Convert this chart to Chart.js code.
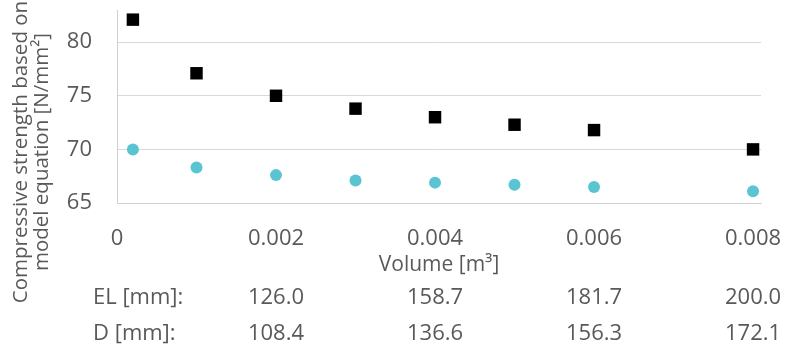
<!DOCTYPE html>
<html>
<head>
<meta charset="utf-8">
<script src="https://cdn.jsdelivr.net/npm/chart.js@4"></script>
<style>
  html, body { margin: 0; padding: 0; background: #fff; }
  #wrap { width: 785px; height: 355px; }
</style>
</head>
<body>
<div id="wrap"><canvas id="chart" width="785" height="355"></canvas></div>
<script>
// Volume [m3] of each specimen
const volume = [0.0002, 0.001, 0.002, 0.003, 0.004, 0.005, 0.006, 0.008];
// strength from model equation, two series
const seriesSquare = [82.1, 77.1, 75.0, 73.8, 73.0, 72.3, 71.8, 70.0];
const seriesCircle = [70.0, 68.3, 67.6, 67.1, 66.9, 66.7, 66.5, 66.1];

// extra rows under the x axis
const rowVolumes = [0.002, 0.004, 0.006, 0.008];
const elValues = ['126.0', '158.7', '181.7', '200.0'];
const dValues = ['108.4', '136.6', '156.3', '172.1'];
const rowLabels = ['EL [mm]:', 'D [mm]:'];

const xTicks = [0, 0.002, 0.004, 0.006, 0.008];
const yTicks = [65, 70, 75, 80];
const yTitle = ['Compressive strength based on', 'model equation [N/mm²]'];

const TEXT = '#595959';
const FONT = '"Open Sans", sans-serif';

function toPoints(ys) {
    return volume.map((v, i) => ({ x: v, y: ys[i] }));
}

// y title (two lines, rotated) and the EL / D rows under the x axis
const extraText = {
    id: 'extraText',
    afterDraw(chart) {
        const ctx = chart.ctx;
        const x = chart.scales.x;
        ctx.save();
        ctx.fillStyle = TEXT;

        ctx.font = '22px ' + FONT;
        ctx.textBaseline = 'middle';
        const rows = [elValues, dValues];
        const ys = [298, 334];
        rows.forEach((vals, r) => {
            ctx.textAlign = 'left';
            ctx.fillText(rowLabels[r], 93, ys[r]);
            ctx.textAlign = 'center';
            vals.forEach((txt, i) => {
                ctx.fillText(txt, x.getPixelForValue(rowVolumes[i]), ys[r]);
            });
        });

        ctx.font = '20.5px ' + FONT;
        ctx.textAlign = 'center';
        ctx.translate(0, 152);
        ctx.rotate(-Math.PI / 2);
        ctx.fillText(yTitle[0], 0, 21);
        ctx.fillText(yTitle[1], 0, 42);
        ctx.restore();
    }
};

const ctx = document.getElementById('chart').getContext('2d');

new Chart(ctx, {
    type: 'scatter',
    data: {
        datasets: [
            {
                label: 'square',
                data: toPoints(seriesSquare),
                pointStyle: 'rect',
                pointRadius: 8.8,
                pointHoverRadius: 8.8,
                backgroundColor: '#000000',
                borderColor: '#000000',
                borderWidth: 0
            },
            {
                label: 'circle',
                data: toPoints(seriesCircle),
                pointStyle: 'circle',
                pointRadius: 6,
                pointHoverRadius: 6,
                backgroundColor: '#5bc4d3',
                borderColor: '#5bc4d3',
                borderWidth: 0
            }
        ]
    },
    options: {
        responsive: false,
        animation: false,
        devicePixelRatio: 1,
        layout: { padding: { top: 10, right: 24, left: 0, bottom: 0 } },
        plugins: {
            legend: { display: false },
            tooltip: { enabled: false }
        },
        scales: {
            x: {
                type: 'linear',
                min: 0,
                max: 0.0081,
                afterBuildTicks: (scale) => {
                    scale.ticks = xTicks.map(v => ({ value: v }));
                },
                afterFit: (scale) => {
                    scale.height = 152;
                    scale.paddingLeft = 0;
                    scale.paddingRight = 0;
                },
                grid: { display: false, drawTicks: false },
                border: { display: true, color: '#d0d0d0', width: 1 },
                ticks: {
                    padding: 23,
                    color: TEXT,
                    font: { family: FONT, size: 22 },
                    maxRotation: 0,
                    callback: (v) => String(+v.toFixed(3))
                },
                title: {
                    display: true,
                    text: 'Volume [m³]',
                    color: TEXT,
                    font: { family: FONT, size: 21 },
                    padding: { top: 0, bottom: 77 }
                }
            },
            y: {
                min: 65,
                max: 83,
                afterBuildTicks: (scale) => {
                    scale.ticks = yTicks.map(v => ({ value: v }));
                },
                afterFit: (scale) => {
                    scale.width = 117;
                    scale.paddingTop = 0;
                    scale.paddingBottom = 0;
                },
                grid: { color: '#d9d9d9', lineWidth: 1, drawTicks: false },
                border: { display: true, color: '#d0d0d0', width: 1 },
                ticks: {
                    padding: 25,
                    color: TEXT,
                    font: { family: FONT, size: 22 }
                }
            }
        }
    },
    plugins: [extraText]
});
</script>
</body>
</html>
